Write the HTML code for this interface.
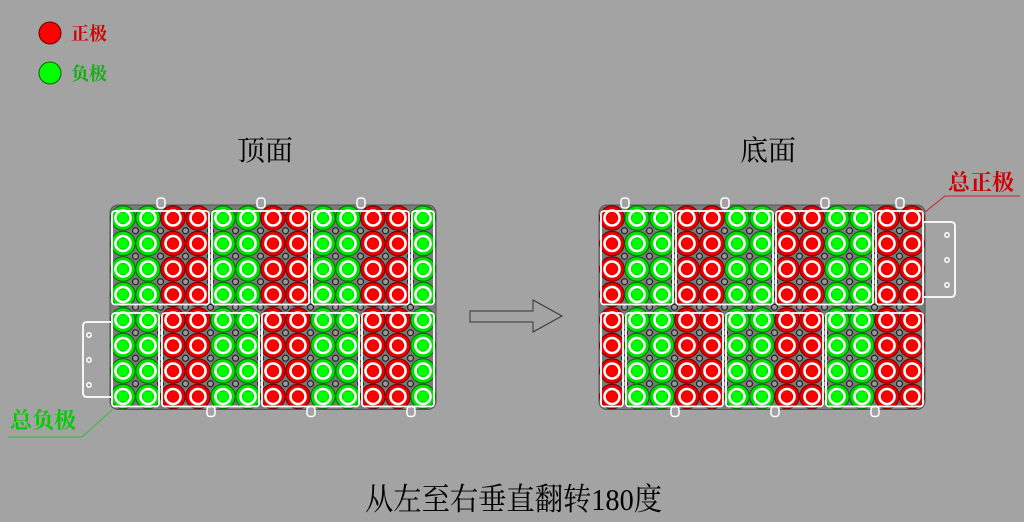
<!DOCTYPE html>
<html><head><meta charset="utf-8">
<style>
html,body{margin:0;padding:0;background:#a3a3a3;}
svg{display:block;}
text{font-family:"Liberation Serif","Noto Serif CJK SC",serif;}
</style></head>
<body>
<svg id="s" width="1024" height="522" viewBox="0 0 1024 522" xmlns="http://www.w3.org/2000/svg">
<rect width="1024" height="522" fill="#a3a3a3"/>
<circle cx="50" cy="33" r="11" fill="#ff0000" stroke="#600" stroke-width="1"/>
<text x="71" y="40" font-size="18" fill="#d00000" font-weight="bold">正极</text>
<circle cx="50" cy="73" r="11" fill="#00ff00" stroke="#060" stroke-width="1"/>
<text x="71" y="80" font-size="18" fill="#10b010" font-weight="bold">负极</text>
<text x="237" y="160" font-size="28" fill="#000">顶面</text>
<text x="740" y="160" font-size="28" fill="#000">底面</text>
<text x="365" y="510" font-size="31" fill="#000" textLength="297" lengthAdjust="spacingAndGlyphs">从左至右垂直翻转180度</text>
<polygon points="470,311 533,311 533,300 562,316 533,332 533,322 470,322" fill="none" stroke="#333" stroke-width="1"/>
<text x="10" y="428" font-size="22" fill="#00cc00" font-weight="bold">总负极</text>
<polyline points="8,437 82,437 112,410" fill="none" stroke="#30c030" stroke-width="1"/>
<text x="948" y="190" font-size="22" fill="#cc0000" font-weight="bold">总正极</text>
<polyline points="1020,196 945,196 925,212" fill="none" stroke="#cc2020" stroke-width="1"/>
<g id="g"></g>
</svg>
<script>
var g=document.getElementById('g'),h='';
function grid(x0,y0,pat,tabsTop,tabsBot,groups){
  var x1=x0+12*25,y1=y0+7*25.5;
  h+='<rect x="'+(x0-13)+'" y="'+(y0-13)+'" width="'+(x1-x0+26)+'" height="'+(y1-y0+26)+'" rx="8" fill="#7a7a7a" stroke="#555"/>';
  tabsTop.forEach(function(t){h+='<rect x="'+(t-4)+'" y="'+(y0-20)+'" width="8" height="10" rx="3" fill="#a3a3a3" stroke="#fff" stroke-width="1.5"/>';});
  tabsBot.forEach(function(t){h+='<rect x="'+(t-4)+'" y="'+(y1+10)+'" width="8" height="10" rx="3" fill="#a3a3a3" stroke="#fff" stroke-width="1.5"/>';});
  for(var r=0;r<7;r++)for(var c=0;c<12;c++){
    h+='<circle cx="'+(x0+c*25+12.5)+'" cy="'+(y0+r*25.5+12.75)+'" r="3" fill="#999" stroke="#222" stroke-width="1.2"/>';
  }
  for(var r=0;r<8;r++)for(var c=0;c<13;c++){
    var cx=x0+c*25,cy=y0+r*25.5,red=pat[c]=='R';
    var f=red?'#e80000':'#00e000',d=red?'#600':'#060';
    h+='<circle cx="'+cx+'" cy="'+cy+'" r="12.3" fill="'+f+'" stroke="'+d+'" stroke-width="1"/>';
    h+='<circle cx="'+cx+'" cy="'+cy+'" r="7.5" fill="'+f+'" stroke="#fff" stroke-width="2.6"/>';
    h+='<rect x="'+(cx-4.5)+'" y="'+(cy-4.5)+'" width="9" height="9" fill="'+(red?'#ff0000':'#00ff00')+'"/>';
  }
  groups.forEach(function(q){
    var a=q[0],b=q[1],c=q[2],d=q[3];
    h+='<rect x="'+(x0+a*25-11)+'" y="'+(y0+c*25.5-7)+'" width="'+((b-a)*25+22)+'" height="'+((d-c)*25.5+17)+'" rx="3" fill="none" stroke="#fff" stroke-width="1.8"/>';
  });
}
grid(123,218,'GGRRGGRRGGRRG',[161,261,361],[211,311,411],
 [[0,3,0,3],[4,7,0,3],[8,11,0,3],[12,12,0,3],[0,1,4,7],[2,5,4,7],[6,9,4,7],[10,12,4,7]]);
grid(612,218,'RGGRRGGRRGGRR',[625,725,825,900],[675,775,875],
 [[0,2,0,3],[3,6,0,3],[7,10,0,3],[11,12,0,3],[0,0,4,7],[1,4,4,7],[5,8,4,7],[9,12,4,7]]);
h+='<path d="M112,322 H87 Q83,322 83,326 V393 Q83,397 87,397 H112" fill="none" stroke="#fff" stroke-width="1.8"/>';
[335,360,385].forEach(function(y){h+='<circle cx="89" cy="'+y+'" r="2.2" fill="none" stroke="#fff" stroke-width="1.5"/>';});
h+='<path d="M924,222 H951 Q955,222 955,226 V293 Q955,297 951,297 H924" fill="none" stroke="#fff" stroke-width="1.8"/>';
[235,260,285].forEach(function(y){h+='<circle cx="947" cy="'+y+'" r="2.2" fill="none" stroke="#fff" stroke-width="1.5"/>';});
g.innerHTML=h;
</script>
</body></html>
